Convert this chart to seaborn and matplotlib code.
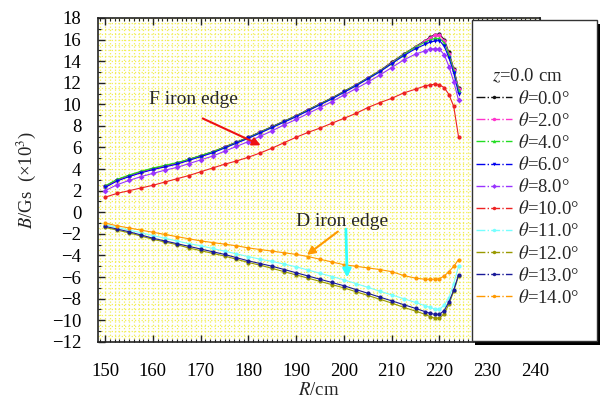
import pandas as pd
import seaborn as sns
import matplotlib.pyplot as plt
from matplotlib.lines import Line2D
from matplotlib.patches import Rectangle
from matplotlib.ticker import MultipleLocator

# radius (cm)
R = [150, 152.5, 155, 157.5, 160, 162.5, 165, 167.5, 170, 172.5, 175, 177.5,
     180, 182.5, 185, 187.5, 190, 192.5, 195, 197.5, 200, 202.5, 205, 207.5,
     210, 212.5, 215, 217, 218, 219, 220, 221, 222, 223, 224]

# B (x10^3 Gs) for each theta
b_0 = [2.4, 3.0, 3.4, 3.75, 4.05, 4.3, 4.55, 4.9, 5.25, 5.6, 6.05, 6.5,
       6.95, 7.45, 7.95, 8.45, 8.95, 9.5, 10.05, 10.6, 11.2, 11.8, 12.45, 13.1,
       13.9, 14.65, 15.35, 15.9, 16.2, 16.45, 16.5, 16.0, 14.8, 13.3, 11.5]
b_2 = [2.35, 2.95, 3.35, 3.7, 4.0, 4.25, 4.5, 4.85, 5.2, 5.55, 6.0, 6.45,
       6.9, 7.4, 7.9, 8.4, 8.9, 9.45, 10.0, 10.55, 11.15, 11.75, 12.4, 13.05,
       13.85, 14.6, 15.3, 15.85, 16.15, 16.4, 16.4, 15.9, 14.7, 13.2, 11.4]
b_4 = [2.45, 3.05, 3.45, 3.8, 4.1, 4.35, 4.6, 4.9, 5.25, 5.6, 6.0, 6.45,
       6.9, 7.4, 7.9, 8.4, 8.9, 9.45, 10.0, 10.55, 11.15, 11.75, 12.4, 13.05,
       13.8, 14.6, 15.3, 15.75, 15.95, 16.1, 16.1, 15.7, 14.6, 13.1, 11.3]
b_6 = [2.3, 2.9, 3.3, 3.65, 3.95, 4.2, 4.45, 4.8, 5.15, 5.5, 5.95, 6.4,
       6.85, 7.35, 7.85, 8.35, 8.85, 9.4, 9.95, 10.5, 11.1, 11.7, 12.35, 13.0,
       13.75, 14.5, 15.15, 15.55, 15.75, 15.85, 15.9, 15.4, 14.3, 12.9, 11.0]
b_8 = [2.0, 2.55, 2.95, 3.3, 3.6, 3.9, 4.15, 4.5, 4.85, 5.2, 5.65, 6.1,
       6.55, 7.05, 7.55, 8.1, 8.6, 9.15, 9.7, 10.25, 10.85, 11.45, 12.05, 12.7,
       13.4, 14.1, 14.65, 14.95, 15.1, 15.15, 15.1, 14.6, 13.5, 12.1, 10.4]
b_10 = [1.4, 1.75, 2.0, 2.25, 2.5, 2.8, 3.1, 3.4, 3.75, 4.1, 4.45, 4.75,
        5.1, 5.5, 5.95, 6.45, 6.95, 7.4, 7.8, 8.25, 8.7, 9.15, 9.7, 10.15,
        10.55, 11.05, 11.4, 11.7, 11.8, 11.85, 11.8, 11.55, 10.9, 9.8, 7.0]
b_11 = [-1.15, -1.4, -1.65, -1.9, -2.15, -2.4, -2.65, -2.9, -3.1, -3.35, -3.6, -3.85,
        -4.1, -4.35, -4.55, -4.8, -5.05, -5.35, -5.65, -5.95, -6.25, -6.6, -6.95, -7.3,
        -7.65, -8.0, -8.35, -8.65, -8.8, -8.95, -9.0, -8.6, -7.9, -6.6, -5.0]
b_12 = [-1.4, -1.65, -1.9, -2.2, -2.5, -2.75, -3.0, -3.3, -3.55, -3.8, -4.05, -4.35,
        -4.65, -4.9, -5.2, -5.5, -5.8, -6.1, -6.4, -6.7, -7.0, -7.35, -7.7, -8.05,
        -8.4, -8.8, -9.15, -9.45, -9.65, -9.8, -9.8, -9.4, -8.5, -7.3, -5.9]
b_13 = [-1.3, -1.55, -1.8, -2.1, -2.4, -2.65, -2.9, -3.15, -3.4, -3.65, -3.9, -4.2,
        -4.5, -4.75, -5.0, -5.3, -5.6, -5.9, -6.2, -6.5, -6.8, -7.15, -7.5, -7.85,
        -8.2, -8.55, -8.9, -9.2, -9.35, -9.45, -9.45, -9.1, -8.3, -7.2, -5.8]
b_14 = [-1.0, -1.25, -1.45, -1.65, -1.85, -2.05, -2.25, -2.45, -2.65, -2.8, -2.95, -3.1,
        -3.3, -3.45, -3.6, -3.75, -3.9, -4.1, -4.35, -4.6, -4.85, -5.0, -5.15, -5.3,
        -5.5, -5.85, -6.1, -6.2, -6.2, -6.2, -6.15, -5.9, -5.5, -5.0, -4.4]

labels = [r'$\theta$=0.0°', r'$\theta$=2.0°', r'$\theta$=4.0°', r'$\theta$=6.0°',
          r'$\theta$=8.0°', r'$\theta$=10.0°', r'$\theta$=11.0°', r'$\theta$=12.0°',
          r'$\theta$=13.0°', r'$\theta$=14.0°']
series = [b_0, b_2, b_4, b_6, b_8, b_10, b_11, b_12, b_13, b_14]
colors = ['#111111', '#ff33cc', '#22dd22', '#0000ee', '#9933ff',
          '#ee2222', '#77ffff', '#999900', '#1a1a99', '#ff9900']
marks = ['o', 'o', '^', 'v', 'D', 'o', 'o', 'o', 'o', 'o']

df = pd.concat([pd.DataFrame({'R': R, 'B': v, 'theta': lab})
                for lab, v in zip(labels, series)], ignore_index=True)

sns.set_style('ticks')
plt.rcParams['font.family'] = ['Liberation Serif', 'DejaVu Serif']
plt.rcParams['mathtext.fontset'] = 'stix'

fig = plt.figure(figsize=(6.01, 4.07), dpi=100)
ax = fig.add_axes([0.163, 0.16, 0.735, 0.796])

sns.lineplot(data=df, x='R', y='B', hue='theta', style='theta',
             palette=dict(zip(labels, colors)), markers=dict(zip(labels, marks)),
             dashes=False, markersize=3, linewidth=0.8, markeredgewidth=0,
             estimator=None, sort=False, legend=False, ax=ax)

ax.set_xlim(148.5, 241)
ax.set_ylim(-12, 18)
ax.xaxis.set_major_locator(MultipleLocator(10))
ax.xaxis.set_minor_locator(MultipleLocator(1))
ax.yaxis.set_major_locator(MultipleLocator(2))
ax.yaxis.set_minor_locator(MultipleLocator(1))

# dotted yellow background grid
ax.grid(which='both', color='#f2ee55', linestyle=':', linewidth=0.9)
ax.hlines([y + 0.5 for y in range(-12, 18)], 148.5, 241, colors='#f2ee55',
          linestyles=':', linewidth=0.9, zorder=0.5)
ax.set_axisbelow(True)

ax.tick_params(which='both', direction='in', top=True, right=False, colors='#222222')
ax.tick_params(which='major', length=5, width=1)
ax.tick_params(which='minor', length=2.5, width=0.8)
ax.tick_params(axis='x', labelsize=13.5, pad=15, labelcolor='black')
ax.tick_params(axis='y', labelsize=13.5, pad=12, labelcolor='black')
for s in ax.spines.values():
    s.set_linewidth(1.2)
    s.set_color('#222222')

ax.set_xlabel(r'$R$/cm', fontsize=13.5, labelpad=2)
ax.set_ylabel(r'$B$/Gs  (×10$^3$)', fontsize=13.5, labelpad=10)

ax.text(168.4, 10.4, 'F iron edge', fontsize=14, ha='center', va='center')
ax.annotate('', xy=(183.1, 6.1), xytext=(169.9, 8.8),
            arrowprops=dict(arrowstyle='-|>', color='#ee1111', lw=1.5, mutation_scale=12))
ax.text(199.7, -0.86, 'D iron edge', fontsize=14, ha='center', va='center')
ax.annotate('', xy=(191.8, -4.1), xytext=(199.2, -1.63),
            arrowprops=dict(arrowstyle='-|>', color='#ff9900', lw=1.5, mutation_scale=12))
ax.annotate('', xy=(200.7, -6.3), xytext=(200.4, -1.3),
            arrowprops=dict(arrowstyle='-|>', color='#33ffff', lw=2, mutation_scale=12))

# legend box with shadow drawn over the right part of the axes
fig.patches.append(Rectangle((0.791, 0.152), 0.208, 0.789, transform=fig.transFigure,
                             facecolor='black', edgecolor='none', zorder=3))
fig.patches.append(Rectangle((0.785, 0.162), 0.208, 0.789, transform=fig.transFigure,
                             facecolor='white', edgecolor='#333333', lw=1, zorder=4))

handles = [Line2D([], [], color=c, marker=m, markersize=2.5, lw=1, linestyle='-.',
                  markeredgewidth=0) for c, m in zip(colors, marks)]
fig.legend(handles, labels, loc='upper left', bbox_to_anchor=(0.792, 0.835),
           title=r'$z$=0.0 cm', title_fontsize=13.5, fontsize=13.5, frameon=False,
           numpoints=1, handlelength=1.9, handletextpad=0.35, labelspacing=0.22,
           borderpad=0, borderaxespad=0)

fig.savefig('out.png', dpi=100)
